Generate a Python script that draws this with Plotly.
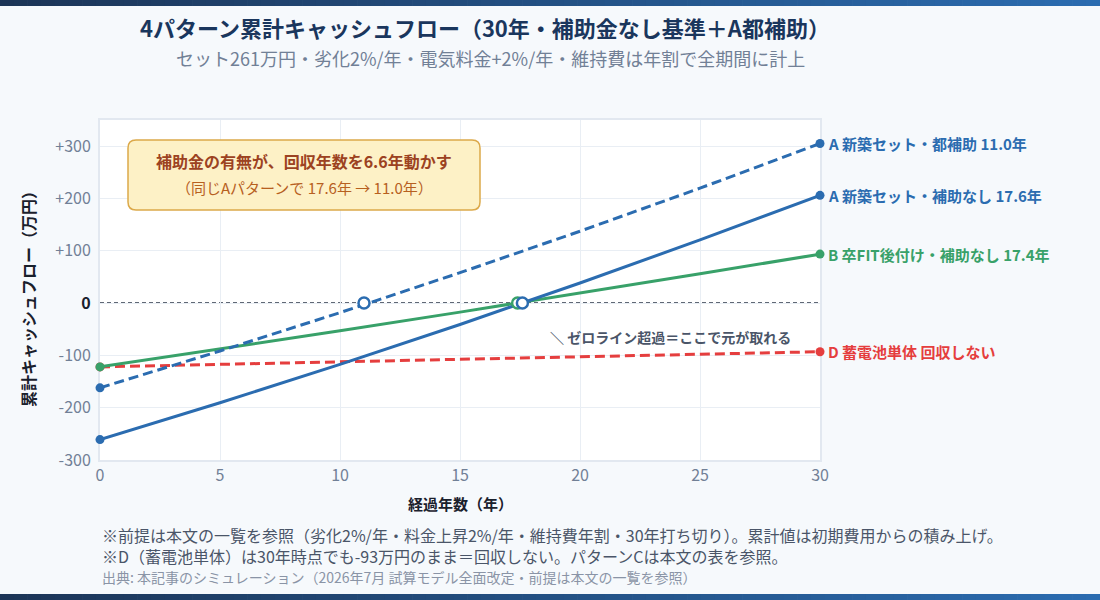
import plotly.graph_objects as go

# ---- data ----
years = [0, 5, 10, 15, 20, 25, 30]
a_subsidy = [-162, -91.6, -18.3, 58.1, 137.4, 219.7, 305]
a_nosub = [-261, -190.6, -117.3, -40.9, 38.4, 120.7, 206]
b_nosub = [-122, -87.8, -52.9, -17.3, 19.0, 56.0, 93.6]
d_battery = [-122, -117.2, -112.4, -107.6, -102.7, -97.9, -93]

breakeven_a_sub = 11.0
breakeven_a_nosub = 17.6
breakeven_b = 17.4

series_labels = ["A 新築セット・都補助 11.0年", "A 新築セット・補助なし 17.6年",
                 "B 卒FIT後付け・補助なし 17.4年", "D 蓄電池単体 回収しない"]
ytick_vals = [300, 200, 100, 0, -100, -200, -300]
ytick_text = ["+300", "+200", "+100", "<span style='color:#1a202c'><b>0</b></span>", "-100", "-200", "-300"]
xtick_vals = [0, 5, 10, 15, 20, 25, 30]

BLUE = "#2b6cb0"
GREEN = "#38a169"
RED = "#e53e3e"
FONT = "Noto Sans CJK JP"
DASH = "10px,5px"

# plot area in figure pixels
L, R = 100, 820
T, B = 120, 460
W, H = R - L, B - T

def fx(x):
    return (x - L) / W

def fy(y):
    return (B - y) / H

fig = go.Figure()

def add_line(y, color, dash):
    fig.add_trace(go.Scatter(x=years, y=y, mode="lines", line=dict(color=color, width=3, dash=dash),
                             hoverinfo="skip", showlegend=False))
    fig.add_trace(go.Scatter(x=[years[0], years[-1]], y=[y[0], y[-1]], mode="markers",
                             marker=dict(color=color, size=9), hoverinfo="skip", showlegend=False,
                             cliponaxis=False))

add_line(d_battery, RED, DASH)
add_line(b_nosub, GREEN, "solid")
add_line(a_nosub, BLUE, "solid")
add_line(a_subsidy, BLUE, DASH)

for xv, col in [(breakeven_b, GREEN), (breakeven_a_nosub, BLUE), (breakeven_a_sub, BLUE)]:
    fig.add_trace(go.Scatter(x=[xv], y=[0], mode="markers",
                             marker=dict(color="white", size=11, line=dict(color=col, width=2.5)),
                             hoverinfo="skip", showlegend=False, cliponaxis=False))

# zero line
fig.add_shape(type="line", xref="x", yref="y", x0=0, x1=30, y0=0, y1=0,
              line=dict(color="#2d3748", width=1.6, dash="4px,3px"), layer="below")

# right-end labels
for lab, yv, col in zip(series_labels, [a_subsidy[-1], a_nosub[-1], b_nosub[-1], d_battery[-1]],
                        [BLUE, BLUE, GREEN, RED]):
    fig.add_annotation(x=30, y=yv, xref="x", yref="y", text=f"<b>{lab}</b>", showarrow=False,
                       xanchor="left", yanchor="middle", xshift=6,
                       font=dict(family=FONT, size=15, color=col))

fig.add_annotation(x=18.67, y=-65, xref="x", yref="y", text="<b>＼ ゼロライン超過＝ここで元が取れる</b>",
                   showarrow=False, xanchor="left", yanchor="middle",
                   font=dict(family=FONT, size=14, color="#4a5568"))

# callout box (rounded)
x0, x1, y0, y1, r = 128, 480, 140, 210, 8
path = (f"M {fx(x0+r)} {fy(y0)} L {fx(x1-r)} {fy(y0)} Q {fx(x1)} {fy(y0)} {fx(x1)} {fy(y0+r)} "
        f"L {fx(x1)} {fy(y1-r)} Q {fx(x1)} {fy(y1)} {fx(x1-r)} {fy(y1)} "
        f"L {fx(x0+r)} {fy(y1)} Q {fx(x0)} {fy(y1)} {fx(x0)} {fy(y1-r)} "
        f"L {fx(x0)} {fy(y0+r)} Q {fx(x0)} {fy(y0)} {fx(x0+r)} {fy(y0)} Z")
fig.add_shape(type="path", xref="paper", yref="paper", path=path,
              fillcolor="#fdf1c6", line=dict(color="#dca94a", width=1.5))
fig.add_annotation(x=fx(304), y=fy(161), xref="paper", yref="paper",
                   text="<b>補助金の有無が、回収年数を6.6年動かす</b>", showarrow=False,
                   xanchor="center", yanchor="middle", font=dict(family=FONT, size=16, color="#9c4221"))
fig.add_annotation(x=fx(304), y=fy(187), xref="paper", yref="paper",
                   text="（同じAパターンで 17.6年 → 11.0年）", showarrow=False,
                   xanchor="center", yanchor="middle", font=dict(family=FONT, size=15, color="#b7601f"))

# titles
fig.add_annotation(x=fx(485), y=fy(27), xref="paper", yref="paper", yanchor="middle",
                   text="<b>4パターン累計キャッシュフロー（30年・補助金なし基準＋A都補助）</b>",
                   showarrow=False, font=dict(family=FONT, size=22, color="#1a365d"))
fig.add_annotation(x=fx(490), y=fy(58), xref="paper", yref="paper", yanchor="middle",
                   text="セット261万円・劣化2%/年・電気料金+2%/年・維持費は年割で全期間に計上",
                   showarrow=False, font=dict(family=FONT, size=18, color="#718096"))

# footnotes
notes = [("※前提は本文の一覧を参照（劣化2%/年・料金上昇2%/年・維持費年割・30年打ち切り）。累計値は初期費用からの積み上げ。", 535, 16, "#4a5568"),
         ("※D（蓄電池単体）は30年時点でも-93万円のまま＝回収しない。パターンCは本文の表を参照。", 556, 16, "#4a5568"),
         ("出典: 本記事のシミュレーション（2026年7月 試算モデル全面改定・前提は本文の一覧を参照）", 577, 14, "#8a94a6")]
for txt, yy, fs, col in notes:
    fig.add_annotation(x=fx(100), y=fy(yy), xref="paper", yref="paper", xanchor="left",
                       yanchor="middle", text=txt, showarrow=False,
                       font=dict(family=FONT, size=fs, color=col))

# axis titles
fig.add_annotation(x=fx(460), y=fy(503), xref="paper", yref="paper", yanchor="middle",
                   text="<b>経過年数（年）</b>", showarrow=False,
                   font=dict(family=FONT, size=15, color="#1a202c"))
fig.add_annotation(x=fx(28), y=fy(295), xref="paper", yref="paper", textangle=-90,
                   xanchor="center", yanchor="middle",
                   text="<b>累計キャッシュフロー（万円）</b>", showarrow=False,
                   font=dict(family=FONT, size=16, color="#1a202c"))

# gradient bars top and bottom
n = 80
c0 = (0x1c, 0x35, 0x57)
c1 = (0x2b, 0x6c, 0xb0)
for i in range(n):
    t = i / (n - 1)
    c = "rgb({},{},{})".format(*[round(a + (b - a) * t) for a, b in zip(c0, c1)])
    xa = fx(1100 * i / n) - 0.0005
    xb = fx(1100 * (i + 1) / n) + 0.0005
    for (pa, pb) in [(0, 6), (594, 600)]:
        fig.add_shape(type="rect", xref="paper", yref="paper", x0=xa, x1=xb,
                      y0=fy(pb), y1=fy(pa), fillcolor=c, line=dict(width=0), layer="above")

fig.update_layout(
    width=1100, height=600,
    margin=dict(l=L, r=1100 - R, t=T, b=600 - B),
    paper_bgcolor="#f6f9fc", plot_bgcolor="#ffffff",
    font=dict(family=FONT, color="#718096"),
    xaxis=dict(range=[0, 30], tickvals=xtick_vals, showgrid=True, gridcolor="#e9eef4",
               showline=True, linecolor="#e2e8f0", linewidth=2, mirror=True, zeroline=False,
               ticks="", layer="below traces",
               tickfont=dict(size=16, color="#718096", family=FONT)),
    yaxis=dict(range=[-300, 350], tickvals=ytick_vals, ticktext=ytick_text, showgrid=True,
               gridcolor="#e9eef4", showline=True, linecolor="#e2e8f0", linewidth=2, mirror=True,
               zeroline=False, ticks="", layer="below traces", ticklabelstandoff=4,
               tickfont=dict(size=16, color="#718096", family=FONT)),
    showlegend=False,
)

fig.write_html("out.html")
